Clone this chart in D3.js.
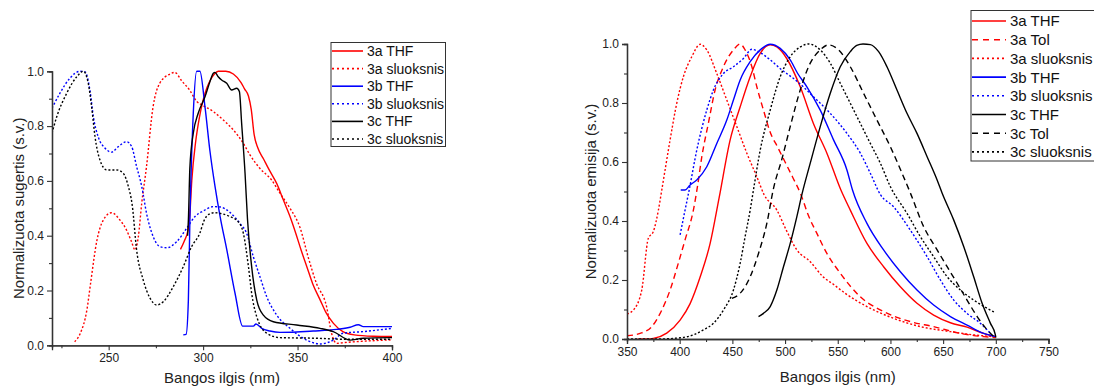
<!DOCTYPE html>
<html><head><meta charset="utf-8">
<script src="https://cdn.jsdelivr.net/npm/d3@7"></script>
<style>
html,body{margin:0;padding:0;background:#fff;}
svg{display:block;font-family:"Liberation Sans",Arial,sans-serif;}
</style></head><body>
<svg id="chart" width="1094" height="387"></svg>
<script>
// ---------- Absorption panel data (wavelength nm, normalized value) ----------
const abs3aTHF = [[288,0.35],[290,0.38],[292,0.42],[293,0.48],[294,0.6],[296,0.74],[298,0.83],[300,0.895],[302,0.94],[304,0.97],[306,0.99],[308,1.0],[312,1.0],[316,0.99],[320,0.96],[322,0.935],[324,0.91],[325.5,0.86],[327,0.77],[329,0.72],[332,0.68],[335,0.64],[339,0.59],[342.5,0.53],[346,0.47],[349,0.41],[352,0.345],[355,0.285],[358,0.225],[362,0.165],[365,0.12],[369,0.08],[374,0.05],[380,0.038],[390,0.033],[400,0.032]];
const abs3aFilm = [[232,0.013],[235,0.044],[238.5,0.13],[240.5,0.23],[243.7,0.38],[247,0.455],[251.5,0.484],[256,0.457],[259.5,0.42],[262,0.38],[264,0.348],[265.7,0.396],[267.5,0.518],[270,0.65],[273.5,0.87],[277,0.956],[282.5,0.99],[285,0.996],[288.7,0.965],[293,0.93],[296.6,0.89],[300,0.875],[305.4,0.853],[310.7,0.822],[316,0.786],[321.3,0.737],[324.8,0.695],[330,0.646],[336.3,0.603],[340.7,0.555],[346,0.5],[351.3,0.43],[355.7,0.32],[360,0.226],[365.4,0.14],[368,0.044],[370.7,0.007],[375,0.01],[385,0.015],[400,0.02]];
const abs3bTHF = [[289.5,0.038],[291,0.04],[292.2,0.165],[293,0.457],[294.8,0.847],[296.6,1.0],[298.3,1.0],[301,0.87],[303.6,0.71],[306.3,0.58],[309,0.47],[312.5,0.35],[316.9,0.19],[320.9,0.07],[326.6,0.07],[328,0.078],[331,0.062],[335.4,0.052],[340.7,0.047],[358.3,0.052],[370.7,0.058],[377.8,0.066],[382.2,0.075],[384.8,0.068],[400,0.068]];
const abs3bFilm = [[220,0.865],[224.2,0.92],[229.5,0.975],[234.8,1.0],[237.5,0.998],[240.1,0.93],[241.9,0.834],[244.5,0.76],[248,0.72],[251.6,0.705],[255.1,0.725],[259.5,0.743],[262.2,0.725],[264.8,0.652],[267.5,0.58],[270.1,0.48],[273.6,0.396],[277.2,0.36],[280.7,0.356],[286,0.378],[291.3,0.427],[295.7,0.47],[300,0.49],[305.4,0.506],[309,0.505],[314.2,0.485],[319.5,0.445],[323,0.409],[326.6,0.323],[330.1,0.25],[333.7,0.177],[339,0.11],[346,0.062],[354.8,0.019],[361.9,0.005],[368.9,0.019],[374.2,0.044],[384.8,0.05],[400,0.062]];
const abs3cTHF = [[291.8,0.40],[292.2,0.457],[293,0.65],[294.8,0.774],[297.4,0.847],[301,0.907],[303.6,0.962],[305.4,0.993],[306.3,0.996],[308,0.98],[309.8,0.968],[312.5,0.956],[315.1,0.932],[317.8,0.938],[319.2,0.926],[320.4,0.81],[322.2,0.628],[323.5,0.46],[325.7,0.287],[328.4,0.165],[331.9,0.11],[337.2,0.086],[349.5,0.074],[361.9,0.062],[368.9,0.05],[377.8,0.019],[384.8,0.026],[400,0.028]];
const abs3cFilm = [[220,0.774],[222.5,0.834],[227.8,0.92],[233.1,0.98],[236.6,1.0],[239.2,0.956],[241,0.87],[242.8,0.76],[245.4,0.676],[249,0.64],[254.3,0.64],[257.7,0.628],[260.4,0.58],[262.5,0.51],[264.8,0.348],[268.3,0.238],[271.9,0.172],[275.4,0.147],[278.9,0.159],[284.2,0.214],[289.5,0.287],[293.9,0.36],[298.3,0.41],[300.5,0.455],[303,0.478],[306,0.484],[310,0.48],[314.2,0.47],[318.6,0.451],[321.3,0.409],[324,0.287],[325.7,0.19],[328.4,0.104],[333.7,0.044],[340.7,0.028],[358.3,0.026],[376,0.022],[400,0.022]];

// ---------- Emission panel data ----------
const em3aTHF = [[360,0],[368,0],[375,0.002],[387.7,0.02],[400.4,0.064],[409.9,0.12],[419.4,0.21],[428.9,0.324],[437.5,0.48],[447.9,0.675],[457.4,0.787],[466.9,0.889],[476.4,0.968],[485.9,0.997],[492.2,0.99],[501.7,0.95],[514.4,0.855],[527,0.73],[539.7,0.63],[553,0.505],[561.9,0.437],[577.7,0.324],[593.5,0.245],[609.4,0.177],[625.2,0.121],[641,0.081],[656.9,0.055],[672.7,0.04],[688.5,0.019],[700,0.008]];
const em3aTol = [[350,0.011],[362.4,0.019],[373.5,0.042],[383,0.098],[390.9,0.166],[398.7,0.257],[405.1,0.336],[413,0.437],[417,0.52],[421,0.618],[427.2,0.731],[433.6,0.844],[441.5,0.923],[451,0.98],[457.4,1.0],[462.1,0.98],[468.5,0.923],[473.2,0.855],[479.5,0.776],[486,0.70],[493,0.65],[500,0.6],[507,0.55],[515,0.49],[522,0.42],[530.2,0.358],[539.7,0.29],[552.4,0.223],[571.4,0.143],[593.5,0.093],[618.9,0.059],[641,0.042],[666.4,0.019],[688.5,0.008],[700,0.005]];
const em3aFilm = [[350,0.085],[356,0.098],[364,0.166],[370.2,0.341],[375,0.364],[379.8,0.437],[383,0.505],[390.9,0.675],[397.2,0.799],[403.5,0.889],[411.5,0.957],[419.4,0.999],[425.7,0.98],[435.2,0.9],[444.7,0.81],[454.2,0.72],[463.7,0.63],[473.2,0.55],[480,0.49],[492.2,0.437],[501,0.37],[511.2,0.302],[523.9,0.262],[536,0.211],[546,0.185],[557,0.155],[577.7,0.11],[603,0.07],[628.4,0.042],[656.9,0.025],[679,0.014],[698,0.008]];
const em3bTHF = [[401,0.505],[405.1,0.505],[409.9,0.522],[416.2,0.539],[425.7,0.584],[435.2,0.663],[444.7,0.742],[451,0.81],[457.4,0.878],[466.9,0.94],[476.4,0.98],[485.9,0.999],[495.4,0.985],[504.9,0.946],[512,0.9],[520.7,0.855],[533.4,0.776],[546,0.675],[558.7,0.573],[564,0.505],[577.7,0.392],[593.5,0.302],[609.4,0.228],[625.2,0.166],[641,0.115],[656.9,0.076],[672.7,0.047],[688.5,0.019],[700,0.008]];
const em3bFilm = [[400.4,0.353],[405.1,0.437],[409,0.505],[416.2,0.64],[425.7,0.776],[432,0.844],[441.5,0.9],[451,0.923],[460.5,0.951],[468.5,0.982],[474.8,0.974],[485.9,0.946],[497,0.912],[512,0.872],[527,0.821],[542.9,0.765],[558.7,0.697],[571.4,0.63],[580.9,0.562],[590.4,0.49],[603,0.448],[618.9,0.369],[634.8,0.279],[647.4,0.2],[660.1,0.132],[672.7,0.087],[685.4,0.053],[694.9,0.019]];
const em3cTHF = [[474.8,0.076],[479.5,0.087],[485.9,0.11],[492.2,0.166],[498.5,0.245],[504.9,0.324],[511.2,0.415],[516,0.49],[523.9,0.596],[533.4,0.72],[542.9,0.833],[552.4,0.923],[561.9,0.974],[568,0.995],[574,1.0],[580.9,0.998],[588.8,0.974],[596.7,0.923],[606.2,0.844],[615.7,0.765],[625.2,0.697],[634.8,0.618],[644.3,0.539],[649,0.495],[660.1,0.403],[669.6,0.313],[679,0.211],[687,0.121],[694.9,0.053],[699.6,0.014],[700,0.005]];
const em3cTol = [[449.5,0.138],[457.4,0.155],[466.9,0.211],[474.8,0.29],[482.7,0.392],[489,0.51],[497,0.61],[504.9,0.72],[514.4,0.844],[523.9,0.935],[533.4,0.98],[541.3,0.997],[550.8,0.98],[561.9,0.923],[574.5,0.833],[587.2,0.742],[599.9,0.652],[611,0.562],[618.9,0.495],[631.5,0.381],[644.3,0.302],[653.8,0.245],[663.3,0.189],[672.7,0.132],[682.3,0.076],[691.8,0.031],[698,0.008]];
const em3cFilm = [[350,0],[380,0],[400.4,0.004],[413,0.014],[422.5,0.031],[432,0.053],[441.5,0.098],[451,0.166],[457.4,0.257],[462.1,0.347],[466.9,0.437],[470,0.505],[476.4,0.64],[485.9,0.776],[495.4,0.889],[504.9,0.957],[514.4,0.99],[522.3,1.0],[533.4,0.98],[542.9,0.935],[552.4,0.867],[561.9,0.799],[571.4,0.731],[580.9,0.663],[590.4,0.596],[600,0.516],[615.7,0.426],[628.4,0.347],[641,0.279],[653.8,0.211],[666.4,0.166],[679,0.132],[691.8,0.104],[699.6,0.089]];

// ---------- Ticks & labels ----------
const yTicksMajor = [0, 0.2, 0.4, 0.6, 0.8, 1.0];
const yTicksMinor = [0.1, 0.3, 0.5, 0.7, 0.9];
const absXTicksMajor = [250, 300, 350, 400];
const absXTicksMinor = [225, 275, 325, 375];
const emXTicksMajor = [350, 400, 450, 500, 550, 600, 650, 700, 750];
const emXTicksMinor = [375, 425, 475, 525, 575, 625, 675, 725];
const xTitle = "Bangos ilgis (nm)";
const absYTitle = "Normalizuota sugertis (s.v.)";
const emYTitle = "Normalizuota emisija (s.v.)";

const absLabels = ["3a THF", "3a sluoksnis", "3b THF", "3b sluoksnis", "3c THF", "3c sluoksnis"];
const absSeriesData = [abs3aTHF, abs3aFilm, abs3bTHF, abs3bFilm, abs3cTHF, abs3cFilm];
const absColors = ["#ff0000", "#ff0000", "#0000ff", "#0000ff", "#000000", "#000000"];
const absStyles = ["solid", "dot", "solid", "dot", "solid", "dot"];

const emLabels = ["3a THF", "3a Tol", "3a sluoksnis", "3b THF", "3b sluoksnis", "3c THF", "3c Tol", "3c sluoksnis"];
const emSeriesData = [em3aTHF, em3aTol, em3aFilm, em3bTHF, em3bFilm, em3cTHF, em3cTol, em3cFilm];
const emColors = ["#ff0000", "#ff0000", "#ff0000", "#0000ff", "#0000ff", "#000000", "#000000", "#000000"];
const emStyles = ["solid", "dash", "dot", "solid", "dot", "solid", "dash", "dot"];

const dashMap = {solid: null, dash: "6,4", dot: "2,2"};
const AX = "#333";

const svg = d3.select("#chart");

function drawPanel(o) {
  const x = d3.scaleLinear().domain(o.xDomain).range(o.xRange);
  const y = d3.scaleLinear().domain([0, 1]).range(o.yRange);
  const g = svg.append("g");
  const id = "clip" + o.name;
  svg.append("clipPath").attr("id", id).append("rect")
    .attr("x", o.xRange[0]).attr("y", o.yRange[1] - 4)
    .attr("width", o.xRange[1] - o.xRange[0]).attr("height", o.yRange[0] - o.yRange[1] + 4);

  const line = d3.line().x(d => x(d[0])).y(d => y(d[1])).curve(d3.curveMonotoneX);
  const lines = g.append("g").attr("clip-path", `url(#${id})`);
  o.data.forEach((d, i) => {
    lines.append("path").datum(d).attr("d", line)
      .attr("fill", "none").attr("stroke", o.colors[i]).attr("stroke-width", 1.4)
      .attr("stroke-dasharray", dashMap[o.styles[i]]);
  });

  // axes
  const xMinor = g.append("g").attr("transform", `translate(0,${o.yRange[0]})`)
    .call(d3.axisBottom(x).tickValues(o.xMinor).tickSize(3).tickFormat(""));
  const xMajor = g.append("g").attr("transform", `translate(0,${o.yRange[0]})`)
    .call(d3.axisBottom(x).tickValues(o.xMajor).tickSize(5).tickPadding(3).tickFormat(d3.format("d")));
  const yMinor = g.append("g").attr("transform", `translate(${o.xRange[0]},0)`)
    .call(d3.axisLeft(y).tickValues(yTicksMinor).tickSize(3).tickFormat(""));
  const yMajor = g.append("g").attr("transform", `translate(${o.xRange[0]},0)`)
    .call(d3.axisLeft(y).tickValues(yTicksMajor).tickSize(5).tickPadding(3).tickFormat(d3.format(".1f")));
  [xMinor, xMajor, yMinor, yMajor].forEach(a => {
    a.select(".domain").attr("stroke", AX).attr("stroke-width", 1.3);
    a.selectAll(".tick line").attr("stroke", AX).attr("stroke-width", 1.1);
    a.selectAll("text").attr("fill", "#222").attr("font-size", 12)
      .attr("font-family", '"Liberation Sans",Arial,sans-serif');
  });

  // titles
  g.append("text").attr("x", (o.xRange[0] + o.xRange[1]) / 2 + o.xTitleDx).attr("y", o.xTitleY)
    .attr("text-anchor", "middle").attr("font-size", 15).attr("fill", "#222").text(xTitle);
  g.append("text").attr("transform", `translate(${o.yTitleX},${(o.yRange[0] + o.yRange[1]) / 2}) rotate(-90)`)
    .attr("text-anchor", "middle").attr("font-size", 15).attr("fill", "#222").text(o.yTitle);

  // legend
  const L = o.legend;
  const lg = g.append("g");
  lg.append("rect").attr("x", L.x).attr("y", L.y).attr("width", L.w).attr("height", L.h)
    .attr("fill", "#fff").attr("stroke", "#333").attr("stroke-width", 1);
  o.labels.forEach((lab, i) => {
    const yy = L.y0 + i * L.dy;
    lg.append("line").attr("x1", L.x + 1).attr("x2", L.x + L.lineW).attr("y1", yy).attr("y2", yy)
      .attr("stroke", o.colors[i]).attr("stroke-width", 1.6)
      .attr("stroke-dasharray", o.styles[i] === "dash" ? "6,5" : (o.styles[i] === "dot" ? "2,3" : null));
    lg.append("text").attr("x", L.x + L.lineW + 4).attr("y", yy).attr("dy", "0.36em")
      .attr("font-size", L.fs).attr("fill", "#111").text(lab);
  });
}

drawPanel({
  name: "abs", xDomain: [220, 400], xRange: [52, 392], yRange: [345.3, 71.3],
  xMajor: absXTicksMajor, xMinor: absXTicksMinor,
  data: absSeriesData, colors: absColors, styles: absStyles, labels: absLabels,
  xTitleY: 383, xTitleDx: 0, yTitle: absYTitle, yTitleX: 24,
  legend: {x: 331, y: 42.5, w: 114.5, h: 104, y0: 51, dy: 17.6, lineW: 32, fs: 14}
});
drawPanel({
  name: "em", xDomain: [350, 750], xRange: [627, 1048.5], yRange: [339, 44],
  xMajor: emXTicksMajor, xMinor: emXTicksMinor,
  data: emSeriesData, colors: emColors, styles: emStyles, labels: emLabels,
  xTitleY: 382, xTitleDx: 0, yTitle: emYTitle, yTitleX: 596,
  legend: {x: 971, y: 10.5, w: 130, h: 150.5, y0: 21, dy: 18.7, lineW: 35, fs: 15}
});
</script>
</body></html>
